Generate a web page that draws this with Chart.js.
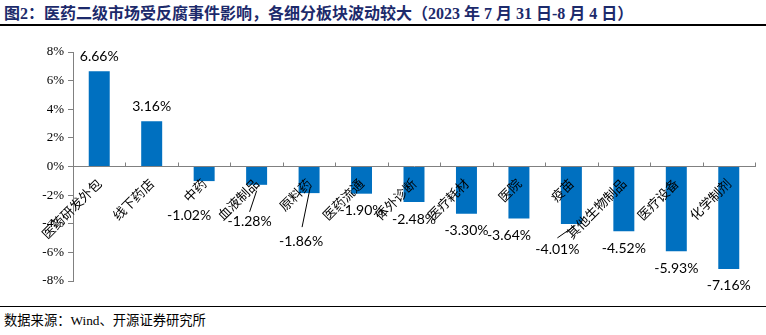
<!DOCTYPE html>
<html><head><meta charset="utf-8">
<script src="https://cdn.jsdelivr.net/npm/chart.js@4/dist/chart.umd.min.js"></script>
<style>
html,body{margin:0;padding:0;background:#fff;width:766px;height:335px;overflow:hidden;}
#title{position:absolute;left:4px;top:5px;font:bold 16px "Liberation Serif","Noto Sans CJK SC";color:#1c2a6b;white-space:nowrap;line-height:18px;}
#tl{position:absolute;left:0;top:24px;width:766px;height:2px;background:#000;}
#wrap{position:absolute;left:0;top:30px;width:766px;height:270px;}
#fl{position:absolute;left:0;top:306px;width:766px;height:1px;background:#000;}
#foot{position:absolute;left:4px;top:312px;font:13.3px "Liberation Serif","Noto Sans CJK SC";color:#000;white-space:nowrap;line-height:18px;}
</style></head>
<body>
<div id="title">图2：医药二级市场受反腐事件影响，各细分板块波动较大（2023 年 7 月 31 日-8 月 4 日）</div>
<div id="tl"></div>
<div id="wrap"><canvas id="c" width="766" height="270"></canvas></div>
<div id="fl"></div>
<div id="foot">数据来源：Wind、开源证券研究所</div>
<script>
const categories = ["医药研发外包","线下药店","中药","血液制品","原料药","医药流通","体外诊断","医疗耗材","医院","疫苗","其他生物制品","医疗设备","化学制剂"];
const changes = [6.66, 3.16, -1.02, -1.28, -1.86, -1.90, -2.48, -3.30, -3.64, -4.01, -4.52, -5.93, -7.16];
const yMin = -8, yMax = 8, yStep = 2;

const valueLabels = {
  id: 'valueLabels',
  afterDatasetsDraw(chart, args, opts) {
    const ctx = chart.ctx;
    const meta = chart.getDatasetMeta(0);
    const data = chart.data.datasets[0].data;
    ctx.save();
    ctx.font = opts.font;
    ctx.fillStyle = '#000';
    ctx.textAlign = 'center';
    ctx.textBaseline = 'middle';
    meta.data.forEach((bar, i) => {
      const v = data[i];
      const n = opts.nudges[i] || [0, 0];
      const x = bar.x + n[0];
      const y = bar.y + (v >= 0 ? -15 : 17) + n[1];
      ctx.fillText(v.toFixed(2) + '%', x, y);
      const L = opts.leaders[i];
      if (L) {
        ctx.beginPath();
        ctx.strokeStyle = '#000';
        ctx.lineWidth = 1;
        ctx.moveTo(bar.x + L[0], bar.y + L[1]);
        ctx.lineTo(x + L[2], y + L[3]);
        ctx.stroke();
      }
    });
    ctx.restore();
  }
};

const upTicks = {
  id: 'upTicks',
  afterDraw(chart) {
    const xs = chart.scales.x, ys = chart.scales.y;
    const y0 = ys.getPixelForValue(0);
    const ctx = chart.ctx;
    ctx.save();
    ctx.strokeStyle = '#808080';
    ctx.lineWidth = 1;
    ctx.beginPath();
    for (let i = 0; i <= categories.length; i++) {
      const x = Math.round(xs.getPixelForValue(i - 0.5)) + 0.5;
      ctx.moveTo(x, y0);
      ctx.lineTo(x, y0 - 4);
    }
    ctx.stroke();
    ctx.restore();
  }
};

new Chart(document.getElementById('c'), {
  type: 'bar',
  data: {
    labels: categories,
    datasets: [{
      data: changes,
      backgroundColor: '#0070C0',
      borderWidth: 0,
      barPercentage: 0.4,
      categoryPercentage: 1.0
    }]
  },
  options: {
    responsive: false,
    animation: false,
    layout: { padding: { top: 22, right: 11, bottom: 19, left: 0 } },
    plugins: {
      legend: { display: false },
      tooltip: { enabled: false },
      valueLabels: {
        font: '14px Lato, "Open Sans", sans-serif',
        nudges: { 2: [-15, 17], 3: [-7, 20], 4: [-8, 31], 8: [-10, 0], 9: [-14, 9] },
        leaders: { 3: [0, 6, 0, -10], 4: [1, -5, 1, -14], 9: [4, 1.5, 0, -12] }
      }
    },
    scales: {
      x: {
        position: { y: 0 },
        offset: true,
        grid: { display: true, drawOnChartArea: false, drawTicks: false, offset: true },
        border: { color: '#808080', width: 1, z: 1 },
        ticks: {
          z: 1,
          autoSkip: false,
          minRotation: 45,
          maxRotation: 45,
          padding: 9,
          color: '#000',
          font: { family: '"Noto Sans CJK SC"', size: 13 }
        }
      },
      y: {
        min: yMin,
        max: yMax,
        afterFit: s => { s.width = 73; },
        grid: { drawOnChartArea: false, drawTicks: true, tickLength: 5, color: '#808080' },
        border: { color: '#808080', width: 1 },
        ticks: {
          stepSize: yStep,
          padding: 4,
          color: '#000',
          font: { family: '"Liberation Serif"', size: 13 },
          callback: v => v + '%'
        }
      }
    }
  },
  plugins: [valueLabels, upTicks]
});
</script>
</body></html>
